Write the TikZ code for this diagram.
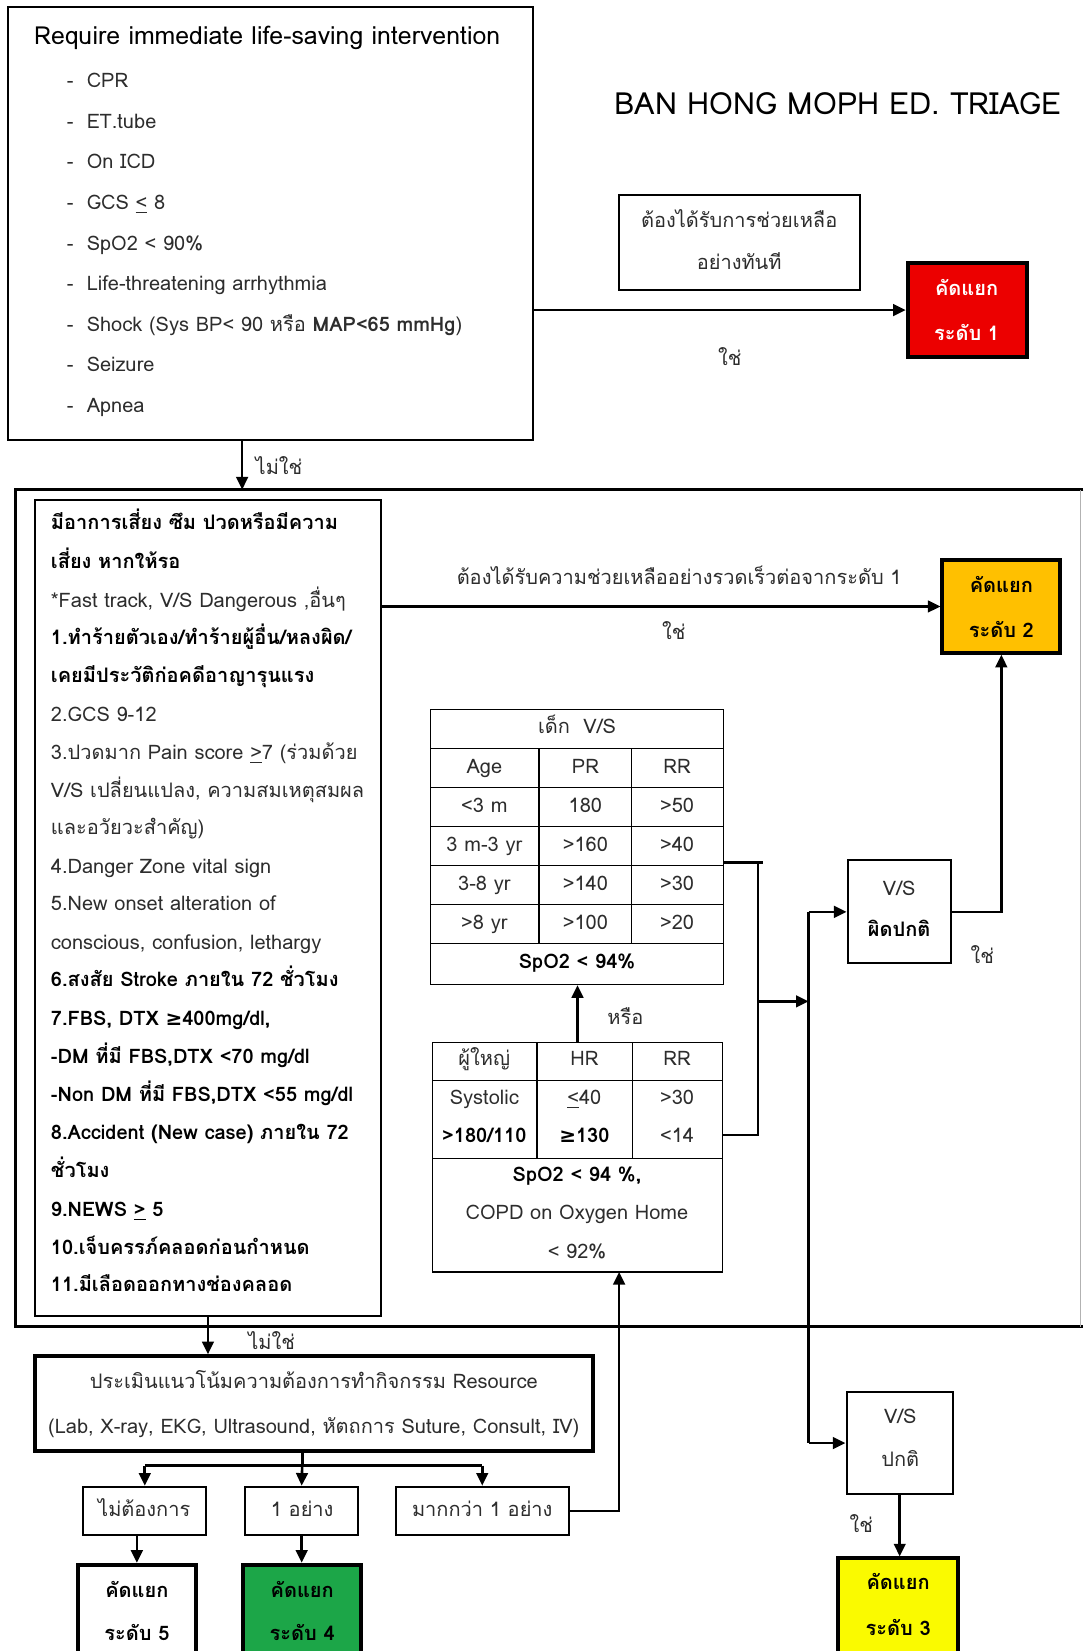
\documentclass[tikz,border=0pt]{standalone}
\usepackage{fontspec}
\setmainfont[Script=Thai]{Loma}
\newfontfamily\symfont{DejaVu Sans}
\usetikzlibrary{arrows.meta,fit}
\definecolor{lvred}{RGB}{236,0,0}
\definecolor{lvorange}{RGB}{255,192,0}
\definecolor{lvgreen}{RGB}{28,166,72}
\definecolor{lvyellow}{RGB}{250,250,0}
\definecolor{txtgray}{RGB}{45,45,45}
\newcommand{\myge}{{\symfont ≥}}
\tikzset{
  txt/.style={font=\fontsize{9.5}{11}\selectfont, text=txtgray, inner sep=0pt, text height=7.5pt, text depth=2.5pt},
  tl/.style={txt, anchor=west},
  tc/.style={txt, anchor=center},
  lvtxt/.style={txt, font=\fontsize{9.5}{11}\selectfont\bfseries, text=black},
  bx/.style={draw, line width=1pt, inner sep=0pt},
  tbx/.style={draw, line width=1.8pt, inner sep=0pt},
  tab/.style={draw, line width=0.6pt, inner sep=0pt},
  conn/.style={line width=1.25pt},
  arr/.style={line width=1.25pt, -{Triangle[length=6pt,width=5.5pt]}}
}
\begin{document}
\begin{tikzpicture}[x=0.5pt,y=-0.5pt]
\useasboundingbox (0,0) rectangle (1029,1568);
\clip (0,0) rectangle (1029,1568);
\fill[white] (0,0) rectangle (1029,1568);

% ---------- top box ----------
\node[bx, fit={(8,7) (506,418)}] (topbox) {};
\node[tl, text=black, font=\fontsize{11.8}{13}\selectfont] (tophead) at (32,37) {Require immediate life-saving intervention};
\foreach \yy/\nm in {78/a,117/b,155/c,194/d,233/e,271/f,310/g,348/h,387/i}
  \node[tl] (dash\nm) at (63,\yy) {-};
\node[tl] (ia) at (82,78) {CPR};
\node[tl] (ib) at (82,117) {ET.tube};
\node[tl] (ic) at (82,155) {On ICD};
\node[tl] (id) at (82,194) {GCS \underline{<} 8};
\node[tl] (ie) at (82,233) {SpO2 < 90\%};
\node[tl] (if) at (82,271) {Life-threatening arrhythmia};
\node[tl] (ig) at (82,310) {Shock (Sys BP< 90 หรือ \textbf{MAP<65 mmHg})};
\node[tl] (ih) at (82,348) {Seizure};
\node[tl] (ii) at (82,387) {Apnea};

% ---------- title ----------
\node[txt, font=\fontsize{14.5}{16}\selectfont, text=black, text height=11pt, text depth=0pt] (title) at (796,98) {BAN HONG MOPH ED. TRIAGE};

% ---------- level 1 ----------
\node[bx, fit={(588,185) (817,275)}] (help1) {};
\node[tc] (help1a) at (702,211) {ต้องได้รับการช่วยเหลือ};
\node[tc] (help1b) at (702,251) {อย่างทันที};
\node[tbx, fill=lvred, fit={(862,250) (975,339)}] (lv1) {};
\node[lvtxt, text=white] (lv1a) at (918,276) {คัดแยก};
\node[lvtxt, text=white] (lv1b) at (918,318) {ระดับ 1};
\draw[arr] (lv1.west -| topbox.east) -- (lv1.west);
\node[tc] (yes1) at (693,342) {ใช่};

% ---------- frame ----------
\coordinate (frametop) at (230,465);
\draw[arr] (frametop |- topbox.south) -- (frametop);
\node[tc] (no1) at (265,446) {ไม่ใช่};
\draw[line width=1.5pt] (1029,465) -- (15,465) -- (15,1260) -- (1029,1260);
\draw[gray!60, line width=0.5pt] (1026,465) -- (1026,1260);

% ---------- risk box ----------
\node[bx, fit={(33,475) (362,1250)}] (riskbox) {};
\node[tl, text=black] (r1) at (48,498) {\textbf{มีอาการเสี่ยง ซึม ปวดหรือมีความ}};
\node[tl, text=black] (r2) at (48,535) {\textbf{เสี่ยง หากให้รอ}};
\node[tl] (r3) at (48,572) {*Fast track, V/S Dangerous ,อื่นๆ};
\node[tl, text=black] (r4) at (48,607) {\textbf{1.ทำร้ายตัวเอง/ทำร้ายผู้อื่น/หลงผิด/}};
\node[tl, text=black] (r5) at (48,643) {\textbf{เคยมีประวัติก่อคดีอาญารุนแรง}};
\node[tl] (r6) at (48,680) {2.GCS 9-12};
\node[tl] (r7) at (48,716) {3.ปวดมาก Pain score \underline{>}7 (ร่วมด้วย};
\node[tl] (r8) at (48,752) {V/S เปลี่ยนแปลง, ความสมเหตุสมผล};
\node[tl] (r9) at (48,788) {และอวัยวะสำคัญ)};
\node[tl] (r10) at (48,825) {4.Danger Zone vital sign};
\node[tl] (r11) at (48,860) {5.New onset alteration of};
\node[tl] (r12) at (48,897) {conscious, confusion, lethargy};
\node[tl, text=black] (r13) at (48,932) {\textbf{6.สงสัย Stroke ภายใน 72 ชั่วโมง}};
\node[tl, text=black] (r14) at (48,969) {\textbf{7.FBS, DTX \myge400mg/dl,}};
\node[tl, text=black] (r15) at (48,1005) {\textbf{-DM ที่มี FBS,DTX <70 mg/dl}};
\node[tl, text=black] (r16) at (48,1041) {\textbf{-Non DM ที่มี FBS,DTX <55 mg/dl}};
\node[tl, text=black] (r17) at (48,1077) {\textbf{8.Accident (New case) ภายใน 72}};
\node[tl, text=black] (r18) at (48,1113) {\textbf{ชั่วโมง}};
\node[tl, text=black] (r19) at (48,1150) {\textbf{9.NEWS \underline{>} 5}};
\node[tl, text=black] (r20) at (48,1186) {\textbf{10.เจ็บครรภ์คลอดก่อนกำหนด}};
\node[tl, text=black] (r21) at (48,1222) {\textbf{11.มีเลือดออกทางช่องคลอด}};

% ---------- level 2 ----------
\node[tbx, fill=lvorange, fit={(895,532) (1007,620)}] (lv2) {};
\node[lvtxt] (lv2a) at (951,558) {คัดแยก};
\node[lvtxt] (lv2b) at (951,600) {ระดับ 2};
\draw[arr] (lv2.west -| riskbox.east) -- (lv2.west);
\node[tc] (urg) at (645,550) {ต้องได้รับความช่วยเหลืออย่างรวดเร็วต่อจากระดับ 1};
\node[tc] (yes2) at (640,602) {ใช่};

% ---------- child table ----------
\node[tab, fit={(409,674) (687,935)}] (kidtab) {};
\foreach \yy in {711,748,785,822,859,896} \draw[line width=0.6pt] (409,\yy) -- (687,\yy);
\draw[line width=0.6pt] (512,711) -- (512,896) (600,711) -- (600,896);
\node[tc] (k0) at (548,692) {เด็ก\ \ V/S};
\node[tc] (k11) at (460,729.5) {Age};
\node[tc] (k12) at (556,729.5) {PR};
\node[tc] (k13) at (643,729.5) {RR};
\node[tc] (k21) at (460,766.5) {<3 m};
\node[tc] (k22) at (556,766.5) {180};
\node[tc] (k23) at (643,766.5) {>50};
\node[tc] (k31) at (460,803.5) {3 m-3 yr};
\node[tc] (k32) at (556,803.5) {>160};
\node[tc] (k33) at (643,803.5) {>40};
\node[tc] (k41) at (460,840.5) {3-8 yr};
\node[tc] (k42) at (556,840.5) {>140};
\node[tc] (k43) at (643,840.5) {>30};
\node[tc] (k51) at (460,877.5) {>8 yr};
\node[tc] (k52) at (556,877.5) {>100};
\node[tc] (k53) at (643,877.5) {>20};
\node[tc, text=black] (k6) at (548,915) {\textbf{SpO2 < 94\%}};

% ---------- adult table ----------
\node[tab, fit={(411,990) (686,1208)}] (adtab) {};
\draw[line width=0.6pt] (411,1026) -- (686,1026) (411,1100) -- (686,1100);
\draw[line width=0.6pt] (510,990) -- (510,1100) (601,990) -- (601,1100);
\node[tc] (a11) at (460,1007) {ผู้ใหญ่};
\node[tc] (a12) at (555,1007) {HR};
\node[tc] (a13) at (643,1007) {RR};
\node[tc] (a21) at (460,1044) {Systolic};
\node[tc] (a22) at (555,1044) {\underline{<}40};
\node[tc] (a23) at (643,1044) {>30};
\node[tc, text=black] (a31) at (460,1080) {\textbf{>180/110}};
\node[tc, text=black] (a32) at (555,1080) {\textbf{\myge130}};
\node[tc] (a33) at (643,1080) {<14};
\node[tc, text=black] (a4) at (548,1117) {\textbf{SpO2 < 94 \%,}};
\node[tc] (a5) at (548,1153) {COPD on Oxygen Home};
\node[tc] (a6) at (548,1190) {< 92\%};
\draw[arr] (adtab.north) -- (adtab.north |- kidtab.south);
\node[tc] (or) at (594,968) {หรือ};

% ---------- bracket & V/S boxes ----------
\coordinate (bkt) at (720,819);
\coordinate (bkb) at (720,1078);
\coordinate (bkm) at (720,951);
\coordinate (vline) at (768,900);
\draw[conn] (kidtab.east |- bkt) -- ([xshift=2.5pt]bkt);
\draw[conn] ([yshift=0.6pt]bkt) -- (bkb) -- (adtab.east |- bkb);
\draw[arr] (bkm) -- (vline |- bkm);
\node[bx, fit={(805,817) (903,915)}] (vsab) {};
\node[tc] (vsab1) at (854,845) {V/S};
\node[tc, text=black] (vsab2) at (854,884) {\textbf{ผิดปกติ}};
\node[bx, fit={(804,1322) (905,1419)}] (vsn) {};
\node[tc] (vsn1) at (855,1347) {V/S};
\node[tc] (vsn2) at (855,1388) {ปกติ};
\draw[conn] (vsab.west -| vline) -- (vsn.west -| vline);
\draw[arr] (vsab.west -| vline) -- (vsab.west);
\draw[arr] (vsn.west -| vline) -- (vsn.west);
\draw[arr] (vsab.east) -| (lv2.south);
\node[tc] (yes3) at (933,910) {ใช่};

% ---------- resource ----------
\node[tbx, fit={(33,1288) (563,1378)}] (res) {};
\draw[arr] (riskbox.south) -- (riskbox.south |- res.north);
\node[tc] (no2) at (258,1277) {ไม่ใช่};
\node[tc] (res1) at (298,1314) {ประเมินแนวโน้มความต้องการทำกิจกรรม Resource};
\node[tc] (res2) at (298,1356) {(Lab, X-ray, EKG, Ultrasound, หัตถการ Suture, Consult, IV)};

\node[bx, fit={(79,1412) (196,1458)}] (none) {};
\node[bx, fit={(233,1412) (340,1458)}] (one) {};
\node[bx, fit={(376,1412) (540,1458)}] (more) {};
\node[tc] (none1) at (137,1435) {ไม่ต้องการ};
\node[tc] (one1) at (287,1435) {1 อย่าง};
\node[tc] (more1) at (458,1435) {มากกว่า 1 อย่าง};

\coordinate (split) at (287,1392);
\draw[conn] (split |- res.south) -- (split);
\draw[conn] (none.north |- split) -- (more.north |- split);
\draw[arr] (none.north |- split) -- (none.north);
\draw[arr] (split) -- (one.north);
\draw[arr] (more.north |- split) -- (more.north);

\coordinate (adin) at (588,1208);
\draw[arr] (more.east) -| (adin);

% ---------- levels 3,4,5 ----------
\node[tbx, fill=white, fit={(74,1486) (186,1580)}] (lv5) {};
\node[lvtxt] (lv5a) at (130,1512) {คัดแยก};
\node[lvtxt] (lv5b) at (130,1553) {ระดับ 5};
\draw[arr] (lv5.north |- none.south) -- (lv5.north);
\node[tbx, fill=lvgreen, fit={(231,1486) (343,1580)}] (lv4) {};
\node[lvtxt] (lv4a) at (287,1512) {คัดแยก};
\node[lvtxt] (lv4b) at (287,1553) {ระดับ 4};
\draw[arr] (one.south) -- (one.south |- lv4.north);
\node[tbx, fill=lvyellow, fit={(796,1480) (910,1580)}] (lv3) {};
\node[lvtxt] (lv3a) at (853,1505) {คัดแยก};
\node[lvtxt] (lv3b) at (853,1548) {ระดับ 3};
\draw[arr] (vsn.south) -- (vsn.south |- lv3.north);
\node[tc] (yes4) at (818,1450) {ใช่};
\end{tikzpicture}
\end{document}
